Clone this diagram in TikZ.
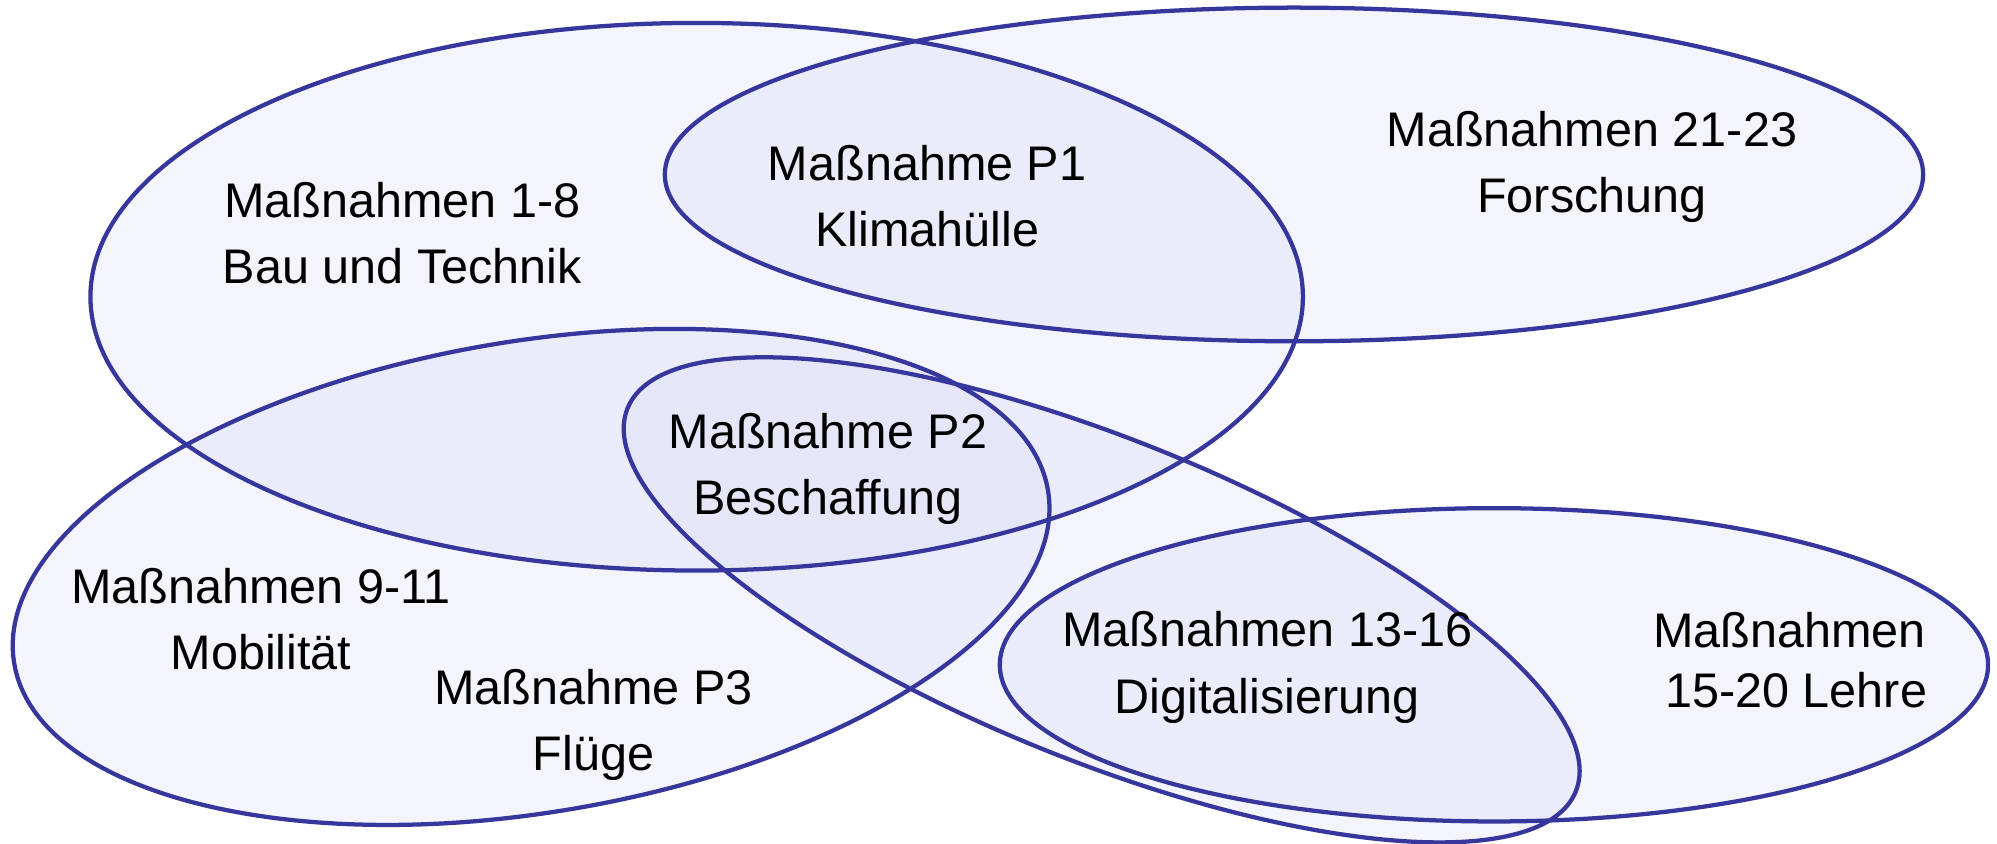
\documentclass[tikz,border=0pt]{standalone}
\usepackage{fontspec}
\setmainfont{Liberation Sans}
\definecolor{setline}{RGB}{54,54,156}
\definecolor{setfill}{RGB}{215,218,245}

\begin{document}
\begin{tikzpicture}
\tikzstyle{setarea}=[fill=setfill, fill opacity=0.3]
\tikzstyle{setrim}=[draw=setline, line width=0.95pt]
\tikzstyle{every node}=[align=center, font=\fontsize{10.85}{14.8}\selectfont]
\useasboundingbox (0,0) rectangle (15.68,6.62);
% the five sets: centre / rotation / radii
\foreach \s in {setarea, setrim}
  \foreach \x/\y/\r/\a/\b in {5.47/4.29/0/4.76/2.15, 10.16/5.25/0/4.94/1.31,
      4.17/2.09/9.5/4.115/1.85, 8.65/1.91/-22/4.015/1.26, 11.73/1.40/0/3.88/1.23}
    \path[\s, rotate around={\r:(\x,\y)}] (\x,\y) ellipse [x radius=\a, y radius=\b];
% labels
\node (bau) at (3.16,4.79) {Maßnahmen 1-8\\Bau und Technik};
\node (klima) at (7.28,5.08) {Maßnahme P1\\Klimahülle};
\node (forschung) at (12.50,5.31) {Maßnahmen 21-23\\Forschung};
\node (beschaffung) at (6.50,2.94) {Maßnahme P2\\Beschaffung};
\node (mobil) at (2.05,1.76) {Maßnahmen 9-11\\Mobilität};
\node (fluege) at (4.66,0.93) {Maßnahme P3\\Flüge};
\node (digital) at (9.95,1.38) {Maßnahmen 13-16\\Digitalisierung};
\node (lehre) at (14.05,1.44) {Maßnahmen\\[-1.4pt]~15-20 Lehre};
\end{tikzpicture}
\end{document}
